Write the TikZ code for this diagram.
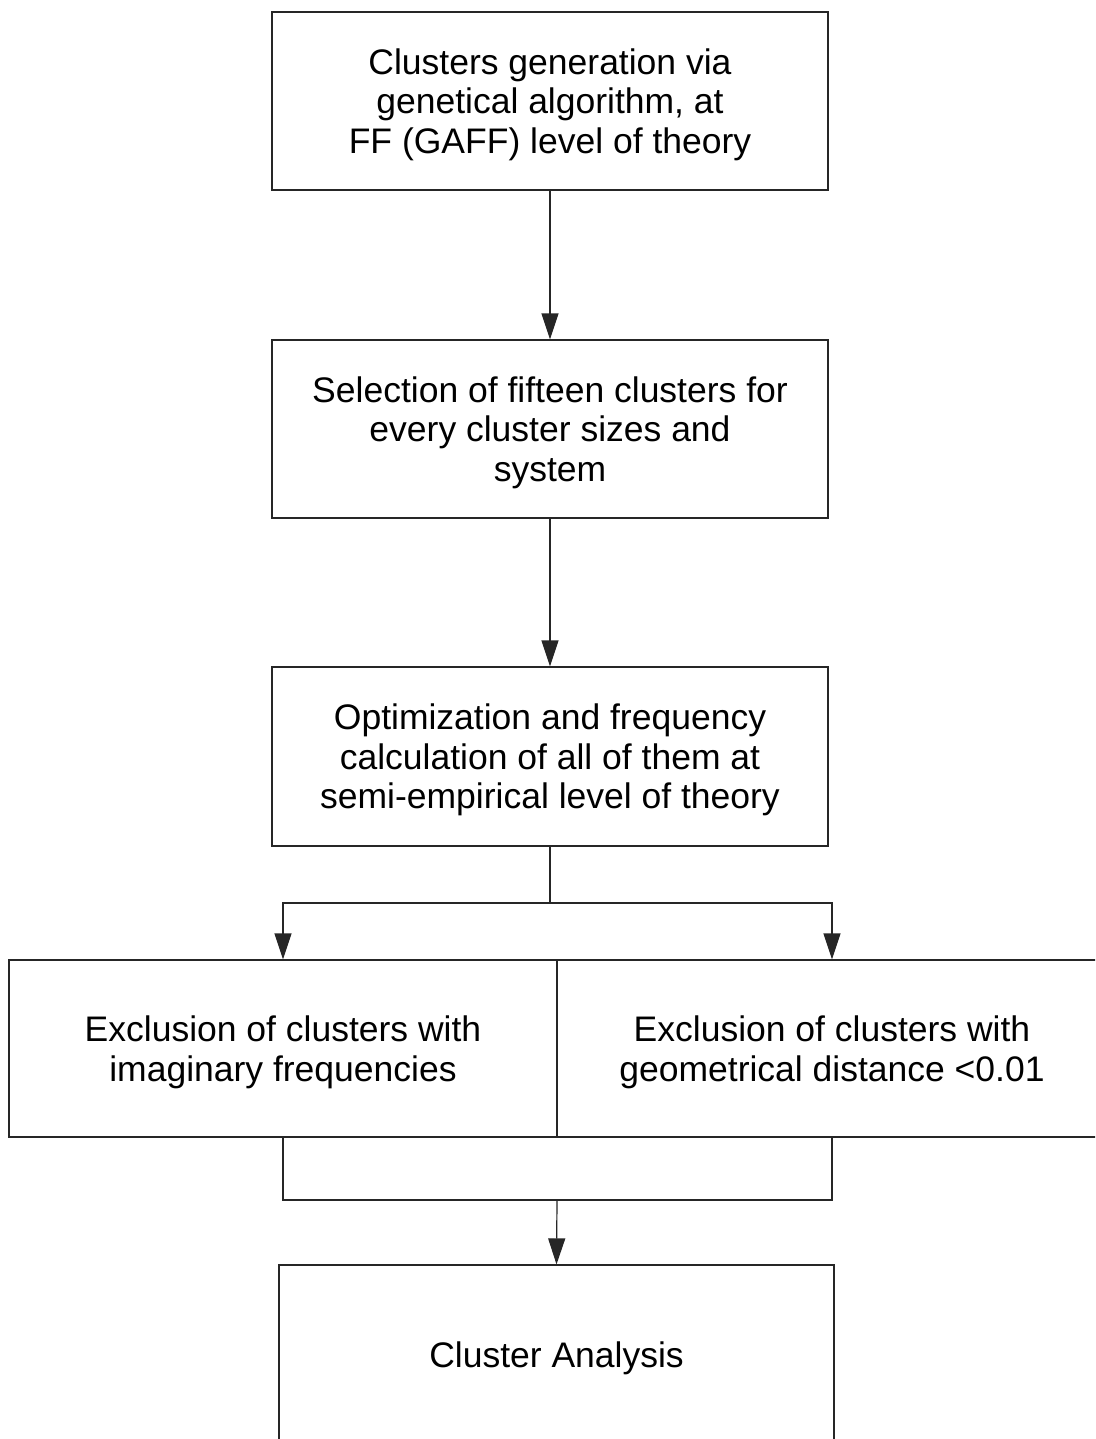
\documentclass[tikz,border=0pt]{standalone}
\usepackage{fontspec}
\setmainfont{Liberation Sans}
\usetikzlibrary{arrows.meta,calc}
\newcommand{\boxtext}[1]{\raisebox{-5pt}[\height][\depth]{\begin{tabular}{@{}c@{}}#1\end{tabular}}}
\begin{document}
\begin{tikzpicture}[x=1pt,y=1pt,
  box/.style={draw=black!85,line width=1.2pt,rectangle,align=center,inner sep=0pt,
    font=\fontsize{35.5}{39.5}\selectfont},
  conn/.style={draw=black!85,line width=1.2pt},
  arr/.style={conn,-{Triangle[length=26pt,width=17pt]}}]
\useasboundingbox (0,0) rectangle (1095,-1439);
\clip (0,0) rectangle (1095,-1439);
\fill[white] (0,0) rectangle (1095,-1439);
\node[box,minimum width=556pt,minimum height=178pt] (b1) at (550,-101)
  {\boxtext{Clusters generation via\\genetical algorithm, at\\FF (GAFF) level of theory}};
\node[box,minimum width=556pt,minimum height=178pt] (b2) at (550,-429)
  {\boxtext{Selection of fifteen clusters for\\every cluster sizes and\\system}};
\node[box,minimum width=556pt,minimum height=179pt] (b3) at (550,-756.5)
  {\boxtext{Optimization and frequency\\calculation of all of them at\\semi-empirical level of theory}};
\node[box,minimum width=548pt,minimum height=177pt] (b4l) at (283,-1048.5)
  {\boxtext{Exclusion of clusters with\\imaginary frequencies}};
\node[box,minimum width=550pt,minimum height=177pt] (b4r) at (832,-1048.5)
  {\boxtext{Exclusion of clusters with\\geometrical distance <0.01}};
\node[box,minimum width=555pt,minimum height=180pt] (b5) at (556.5,-1355)
  {\boxtext{Cluster Analysis}};
\coordinate (j1) at (550,-903);
\coordinate (j2) at (557,-1200);
\draw[arr] (b1.south) -- (b2.north);
\draw[arr] (b2.south) -- (b3.north);
\draw[conn] (b3.south) -- (j1);
\draw[arr] (j1) -| (b4l.north);
\draw[arr] (j1) -| (b4r.north);
\draw[conn] (b4l.south) |- (j2) -| (b4r.south);
\draw[arr] (j2) -- (b5.north);
\end{tikzpicture}
\end{document}
